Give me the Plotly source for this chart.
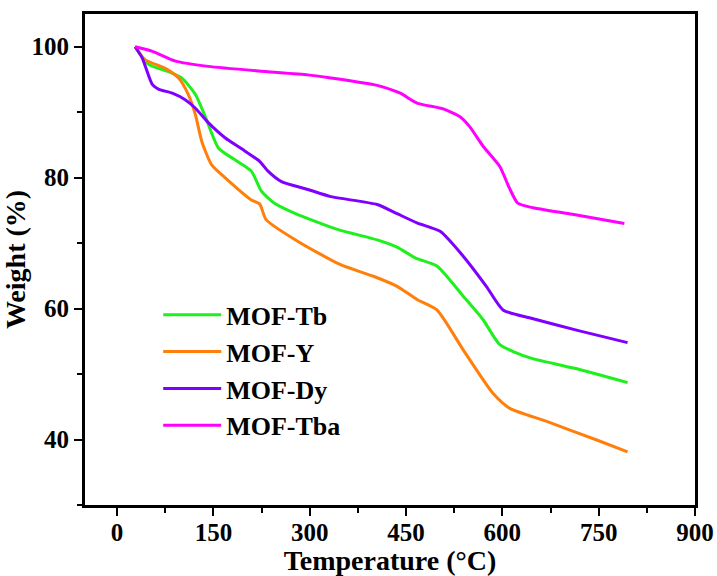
import plotly.graph_objects as go

# MOF-Tb
tb_T = [28, 49, 80, 101, 122, 137, 158, 184, 209, 225, 245, 276, 343, 405, 436, 465, 498, 539, 570, 596, 642, 720, 795]
tb_W = [100, 97.3, 96.2, 95.2, 92.7, 89.4, 84.5, 82.7, 81.0, 77.9, 76.1, 74.6, 72.1, 70.5, 69.4, 67.7, 66.5, 61.9, 58.3, 54.5, 52.5, 50.7, 48.7]

# MOF-Y
y_T = [28, 44, 75, 96, 111, 122, 132, 147, 168, 209, 222, 232, 281, 348, 400, 436, 467, 498, 539, 585, 611, 668, 745, 795]
y_W = [100, 98.0, 96.7, 95.2, 92.7, 89.6, 85.5, 82.0, 80.0, 76.6, 76.0, 73.6, 70.3, 66.7, 64.9, 63.4, 61.4, 59.8, 53.7, 47.1, 44.8, 42.8, 40.0, 38.1]

# MOF-Dy
dy_T = [28, 39, 55, 65, 86, 106, 122, 142, 168, 194, 222, 235, 256, 297, 333, 405, 436, 467, 503, 539, 575, 601, 642, 720, 795]
dy_W = [100, 98.3, 94.2, 93.5, 92.9, 91.9, 90.6, 88.4, 86.1, 84.4, 82.5, 81.0, 79.4, 78.2, 77.1, 75.9, 74.5, 73.1, 71.8, 68.0, 63.4, 59.8, 58.6, 56.6, 54.8]

# MOF-Tba
tba_T = [28, 55, 91, 142, 220, 297, 328, 405, 441, 467, 508, 534, 549, 570, 596, 611, 624, 648, 709, 790]
tba_W = [100, 99.3, 97.8, 97.0, 96.3, 95.7, 95.3, 94.1, 92.9, 91.4, 90.5, 89.3, 87.8, 84.8, 81.7, 78.4, 76.1, 75.4, 74.4, 73.0]

names = ["MOF-Tb", "MOF-Y", "MOF-Dy", "MOF-Tba"]
colors = ["#1EF01E", "#FF7F0A", "#7F00FF", "#FF00FF"]
series = [(tb_T, tb_W), (y_T, y_W), (dy_T, dy_W), (tba_T, tba_W)]

x_ticks = [0, 150, 300, 450, 600, 750, 900]
y_ticks = [40, 60, 80, 100]

FONT = "Liberation Serif"

fig = go.Figure()
for (t, w), n, c in zip(series, names, colors):
    fig.add_trace(go.Scatter(x=t, y=w, mode="lines", name=n,
                             line=dict(color=c, width=3, shape="spline", smoothing=0.6)))

axis_common = dict(
    showline=True, linecolor="black", linewidth=3, mirror=True,
    ticks="outside", ticklen=8, tickwidth=2, tickcolor="black",
    showgrid=False, zeroline=False, automargin=False,
    tickfont=dict(family=FONT, size=25, color="black", weight="bold"),
)

fig.update_xaxes(range=[-50, 900], tickvals=x_ticks, ticklabelstandoff=-5,
                 title=dict(text="Temperature (°C)", font=dict(family=FONT, size=28, color="black", weight="bold"), standoff=0),
                 minor=dict(ticks="outside", ticklen=5, tickwidth=2, tickcolor="black", dtick=75, tick0=0),
                 **axis_common)
fig.update_yaxes(range=[30, 105], tickvals=y_ticks,
                 title=dict(text="Weight (%)", font=dict(family=FONT, size=28, color="black", weight="bold"), standoff=4),
                 minor=dict(ticks="outside", ticklen=5, tickwidth=2, tickcolor="black", dtick=10, tick0=0),
                 **axis_common)

fig.update_layout(
    width=717, height=576,
    margin=dict(l=85, r=22, t=14, b=71),
    paper_bgcolor="white", plot_bgcolor="white",
    font=dict(family=FONT, color="black"),
    legend=dict(x=0.12, y=0.435, xanchor="left", yanchor="top",
                bgcolor="rgba(0,0,0,0)", borderwidth=0, itemwidth=58,
                font=dict(family=FONT, size=26, color="black", weight="bold"),
                tracegroupgap=0),
    showlegend=True,
)

fig.write_html("out.html")
